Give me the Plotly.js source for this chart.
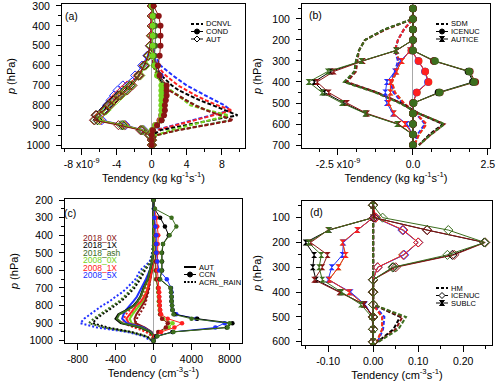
<!DOCTYPE html>
<html>
<head>
<meta charset="utf-8">
<script src="https://cdn.plot.ly/plotly-3.0.1.min.js"></script>
<style>
  html, body { margin: 0; padding: 0; background: #fff; }
  #chart { width: 500px; height: 392px; }
</style>
</head>
<body>
<div id="chart"></div>
<script>
// scenarios, same order in every data block below
var scen = ['2018_0X', '2018_1X', '2018_ash', '2008_0X', '2008_1X', '2008_5X'];
var scenColors = ['#8c1515', '#000000', '#3c6e1e', '#74d420', '#ff2020', '#2030ff'];

// (a) mass tendencies, units of 1e-9 kg kg-1 s-1
var levA = [300, 350, 400, 450, 500, 550, 600, 650, 700, 725, 750, 775, 800, 825, 850, 875, 900, 925, 950, 975, 1000];
var aDCNVL = [
  [0, 0, 0, 0, 0, 0.1, 0.2, 0.6, 1.3, 2.0, 2.9, 3.9, 4.9, 6.2, 7.8, 9.3, 6.2, 3.0, 0.6, 0.1, 0],
  [0, 0, 0, 0, 0, 0.1, 0.4, 1.1, 2.3, 3.1, 4.3, 5.5, 7.0, 8.5, 9.8, 6.8, 3.8, 1.0, 0.1, 0, 0],
  [0, 0, 0, 0, 0, 0.1, 0.2, 0.6, 1.4, 2.1, 3.0, 4.0, 5.0, 6.3, 8.0, 9.0, 6.0, 3.0, 0.6, 0.1, 0],
  [0, 0, 0, 0, 0, 0.1, 0.2, 0.6, 1.4, 2.2, 3.0, 3.7, 4.4, 6.4, 8.8, 6.6, 4.4, 2.2, 0.5, 0, 0],
  [0, 0, 0, 0, 0, 0.2, 0.6, 1.6, 3.0, 4.0, 5.0, 6.2, 7.5, 9.2, 7.0, 4.8, 2.6, 0.6, 0, 0, 0],
  [0, 0, 0, 0, 0.1, 0.4, 1.0, 2.4, 4.0, 5.0, 6.1, 7.2, 8.3, 9.0, 6.8, 4.6, 2.4, 0.4, 0, 0, 0]
];
var aCOND = [
  [0.2, 0.8, 1.0, 1.0, 1.0, 0.9, 0.7, 0.9, 1.7, 1.7, 1.7, 1.6, 1.5, 1.5, 1.4, 1.1, 0.6, 0.1, 0, 0, 0],
  [0, 0.1, 0.1, 0.1, 0.1, 0.1, 0.3, 0.7, 1.3, 1.4, 1.4, 1.4, 1.3, 1.3, 1.3, 1.1, 0.6, 0.1, 0, 0, 0],
  [0.1, 0.3, 0.4, 0.4, 0.4, 0.3, 0.4, 0.8, 1.5, 1.5, 1.5, 1.5, 1.4, 1.4, 1.3, 1.1, 0.6, 0.1, 0, 0, 0],
  [0, 0.1, 0.1, 0.1, 0.1, 0.1, 0.3, 0.6, 1.1, 1.1, 1.1, 1.1, 1.1, 1.1, 1.1, 1.0, 0.4, 0, 0, 0, 0],
  [0, 0, 0, 0, 0.1, 0.2, 0.4, 0.8, 1.2, 1.3, 1.3, 1.3, 1.3, 1.2, 1.1, 0.9, 0.4, 0.1, 0, 0, 0],
  [0, 0, 0, 0, 0.1, 0.3, 0.6, 1.0, 1.3, 1.3, 1.3, 1.3, 1.3, 1.2, 1.1, 0.9, 0.4, 0.1, 0, 0, 0]
];
var aAUT = [
  [0, 0, 0, -0.1, -0.2, -0.4, -0.9, -1.4, -2.2, -2.8, -3.6, -4.3, -4.8, -5.4, -6.4, -6.6, -3.8, -1.3, -0.3, 0, 0],
  [0, 0, 0, 0, -0.1, -0.4, -0.8, -1.5, -2.5, -3.1, -3.8, -4.4, -5.0, -5.5, -6.3, -6.2, -3.3, -1.1, -0.2, 0, 0],
  [0, 0, 0, 0, -0.1, -0.4, -0.9, -1.5, -2.4, -3.0, -3.7, -4.3, -4.9, -5.3, -6.4, -6.5, -3.5, -1.2, -0.3, 0, 0],
  [0, 0, 0, 0, -0.1, -0.3, -0.7, -1.3, -2.3, -2.9, -3.5, -4.1, -4.7, -5.2, -5.9, -6.0, -3.2, -1.0, -0.2, 0, 0],
  [0, 0, 0, 0, -0.1, -0.4, -0.9, -1.6, -2.8, -3.4, -4.0, -4.5, -5.0, -5.4, -6.0, -5.9, -3.1, -1.0, -0.2, 0, 0],
  [0, 0, 0, 0, -0.2, -0.5, -1.1, -1.9, -3.3, -3.9, -4.3, -4.7, -5.1, -5.5, -5.9, -5.7, -3.0, -0.9, -0.2, 0, 0]
];

// (b) ice mass tendencies, units of 1e-9 kg kg-1 s-1
var levB = [50, 100, 150, 200, 250, 300, 350, 400, 450, 500, 550, 600, 650, 700];
var bSDM = [
  [0, 0, -0.9, -1.6, -1.8, -1.85, -1.9, -2.2, -1.2, -0.4, 0.2, 1.05, 0.6, 0.2],
  [0, 0, -0.95, -1.6, -1.8, -1.9, -1.95, -2.25, -1.2, -0.4, 0.2, 1.0, 0.55, 0.2],
  [0, 0, -0.95, -1.6, -1.8, -1.9, -1.95, -2.3, -1.25, -0.45, 0.2, 1.05, 0.6, 0.2],
  [0, 0, -0.3, -0.5, -0.6, -0.45, -0.55, -0.7, -0.6, -0.3, 0.1, 0.45, 0.2, 0.05],
  [0, 0, -0.3, -0.5, -0.6, -0.45, -0.55, -0.7, -0.6, -0.3, 0.1, 0.45, 0.2, 0.05],
  [0, 0, -0.3, -0.5, -0.6, -0.5, -0.6, -0.75, -0.65, -0.35, 0.1, 0.4, 0.15, 0.05]
];
var bICENUC = [
  [0, 0, 0, 0, 0, 0.7, 1.9, 2.08, 0.9, 0.02, 0, 0, 0, 0],
  [0, 0, 0, 0, 0, 0.7, 1.85, 2.0, 0.85, 0.02, 0, 0, 0, 0],
  [0, 0, 0, 0, 0, 0.74, 1.88, 2.04, 0.89, 0.02, 0, 0, 0, 0],
  [0, 0, 0, 0, -0.05, 0.19, 0.41, 0.52, 0.13, 0, 0, 0, 0, 0],
  [0, 0, 0, 0, -0.05, 0.19, 0.41, 0.52, 0.13, 0, 0, 0, 0, 0],
  [0, 0, 0, 0, -0.05, 0.18, 0.4, 0.5, 0.12, 0, 0, 0, 0, 0]
];
var bAUTICE = [
  [0, 0, 0, 0, -0.55, -1.67, -2.64, -3.2, -2.81, -2.2, -1.53, -0.48, 0, 0],
  [0, 0, 0, 0, -0.55, -1.7, -2.75, -3.3, -2.95, -2.3, -1.57, -0.5, 0, 0],
  [0, 0, 0, 0, -0.57, -1.72, -2.84, -3.48, -3.03, -2.37, -1.59, -0.53, 0, 0],
  [0, 0, 0, 0, -0.1, -0.37, -0.55, -0.75, -0.75, -0.81, -0.64, -0.26, 0, 0],
  [0, 0, 0, 0, -0.1, -0.37, -0.55, -0.75, -0.75, -0.81, -0.64, -0.26, 0, 0],
  [0, 0, 0, 0, -0.08, -0.42, -0.6, -0.87, -0.92, -0.87, -0.67, -0.2, 0, 0]
];

// (c) number tendencies, cm-3 s-1 (CCN is shown on a 1:10 scale, labels 4000/8000)
var levC = [200, 250, 300, 350, 400, 450, 500, 550, 600, 650, 700, 725, 750, 775, 800, 825, 850, 875, 900, 925, 950, 975, 1000];
var cAUT = [
  [0, 0, 0, 0, 0, 0, 0, -5, -15, -30, -50, -60, -75, -90, -120, -150, -180, -200, -190, -90, -20, 0, 0],
  [0, 0, 0, 0, 0, 0, -5, -15, -35, -60, -105, -120, -140, -170, -210, -280, -370, -400, -345, -140, -35, 0, 0],
  [0, 0, 0, 0, 0, 0, -5, -15, -35, -60, -100, -115, -135, -165, -200, -270, -360, -385, -330, -130, -30, 0, 0],
  [0, 0, 0, 0, 0, 0, 0, -5, -20, -35, -60, -75, -90, -110, -150, -190, -220, -250, -230, -100, -25, 0, 0],
  [0, 0, 0, 0, 0, 0, 0, -5, -20, -35, -60, -75, -100, -130, -180, -220, -250, -285, -260, -120, -30, 0, 0],
  [0, 0, 0, 0, 0, 0, -5, -15, -40, -80, -125, -150, -175, -210, -250, -290, -315, -330, -280, -110, -25, 0, 0]
];
var cCCN = [
  [0, 50, 100, 150, 200, 200, 200, 200, 250, 300, 500, 550, 600, 600, 650, 700, 700, 900, 1500, 1300, 500, 100, 0],
  [0, 100, 700, 1200, 1600, 1000, 900, 900, 900, 650, 1800, 1850, 1900, 1900, 1950, 2000, 2200, 4600, 8300, 7700, 2000, 300, 0],
  [0, 150, 1900, 2400, 1700, 1000, 850, 850, 850, 700, 1800, 1850, 1900, 1900, 1950, 2000, 2100, 4000, 8000, 7800, 2100, 400, 0],
  [0, 30, 80, 100, 150, 150, 150, 150, 200, 250, 450, 500, 550, 550, 600, 650, 700, 1000, 2000, 1600, 600, 100, 0],
  [0, 100, 300, 400, 500, 450, 450, 400, 400, 500, 550, 600, 600, 650, 650, 700, 800, 1500, 3000, 2200, 800, 200, 0],
  [0, 50, 100, 200, 300, 300, 300, 400, 600, 1400, 1850, 1900, 1900, 1900, 1950, 2000, 2400, 4500, 7500, 6500, 2000, 300, 0]
];
var cACRL = [
  [0, 0, 0, 0, 0, 0, -5, -10, -20, -30, -45, -55, -65, -75, -90, -120, -150, -175, -190, -130, -50, -10, 0],
  [0, 0, 0, 0, 0, -5, -10, -30, -90, -140, -200, -240, -290, -340, -400, -470, -540, -600, -640, -480, -230, -70, -10],
  [0, 0, 0, 0, 0, -5, -10, -30, -110, -160, -220, -260, -310, -360, -430, -500, -570, -630, -680, -520, -250, -80, -10],
  [0, 0, 0, 0, 0, 0, -5, -10, -20, -40, -70, -85, -100, -120, -150, -190, -230, -250, -260, -170, -70, -15, 0],
  [0, 0, 0, 0, 0, 0, -5, -10, -25, -50, -90, -110, -130, -160, -210, -250, -290, -310, -320, -200, -80, -15, 0],
  [0, 0, 0, 0, 0, -5, -15, -40, -140, -190, -280, -330, -400, -460, -540, -600, -660, -730, -770, -590, -280, -100, -30]
];
var ccnScale = 10;

// (d) ice number tendencies, cm-3 s-1
var levD = [50, 100, 150, 200, 250, 300, 350, 400, 450, 500, 550, 600];
var dHM = [
  [0, 0, 0, 0, 0, 0, 0, 0, 0, 0.065, 0.05, 0.012],
  [0, 0, 0, 0, 0, 0, 0, 0, 0, 0.06, 0.045, 0.01],
  [0, 0, 0, 0, 0, 0, 0, 0, 0, 0.073, 0.056, 0.012],
  [0, 0, 0, 0, 0, 0, 0, 0, 0, 0.02, 0.02, 0.008],
  [0, 0, 0, 0, 0, 0, 0, 0, 0, 0.02, 0.02, 0.008],
  [0, 0, 0, 0, 0, 0, 0, 0, 0, 0.025, 0.022, 0.01]
];
var dICENUC = [
  [0, 0.002, 0.12, 0.249, 0.18, 0.05, 0, 0, 0, 0, 0, 0],
  [0, 0.002, 0.12, 0.247, 0.176, 0.045, 0, 0, 0, 0, 0, 0],
  [0, 0.021, 0.167, 0.248, 0.165, 0.043, 0, 0, 0, 0, 0, 0],
  [0, 0.006, 0.067, 0.1, 0.067, 0.01, 0, 0, 0, 0, 0, 0],
  [0, 0.006, 0.067, 0.1, 0.067, 0.01, 0, 0, 0, 0, 0, 0],
  [0, 0.005, 0.065, 0.1, 0.069, 0.01, 0, 0, 0, 0, 0, 0]
];
var dSUBLC = [
  [0, 0, -0.1, -0.139, -0.101, -0.113, -0.131, -0.075, -0.02, 0, 0, 0],
  [0, 0, -0.098, -0.15, -0.131, -0.134, -0.127, -0.072, -0.02, 0, 0, 0],
  [0, 0, -0.099, -0.144, -0.115, -0.12, -0.113, -0.07, -0.027, -0.003, 0, 0],
  [0, 0, -0.035, -0.068, -0.061, -0.077, -0.098, -0.053, -0.02, 0, 0, 0],
  [0, 0, -0.035, -0.068, -0.061, -0.077, -0.098, -0.053, -0.02, 0, 0, 0],
  [0, 0, -0.035, -0.066, -0.068, -0.092, -0.1, -0.05, -0.018, 0, 0, 0]
];

// which scenario ends up on top differs per panel (last = top)
var orderA = [5, 4, 1, 2, 3, 0];
var orderB = [3, 5, 4, 1, 0, 2];
var orderC = [3, 0, 4, 5, 1, 2];
var orderD = [3, 5, 4, 1, 0, 2];

var styles = {
  dash:  {mode: 'lines', line: {width: 2, dash: '4px,2px'}},
  dot:   {mode: 'lines', line: {width: 2, dash: '2px,2px'}},
  thick: {mode: 'lines', line: {width: 2}},
  circ:  {mode: 'lines+markers', line: {width: 1}, marker: {symbol: 'circle', size: 6}},
  circS: {mode: 'lines+markers', line: {width: 1}, marker: {symbol: 'circle', size: 4.5}},
  circL: {mode: 'lines+markers', line: {width: 1}, marker: {symbol: 'circle', size: 7.5}},
  diam:  {mode: 'lines+markers', line: {width: 1}, marker: {symbol: 'diamond-open', size: 7, line: {width: 1}}},
  hour:  {mode: 'lines+markers', line: {width: 1}, marker: {symbol: 'hourglass', size: 6}}
};

var data = [];
function addSet(levels, rows, n, style, order, scale) {
  scale = scale || 1;
  order.forEach(function (i) {
    var s = styles[style];
    var c = scenColors[i];
    var tr = {
      type: 'scatter',
      x: rows[i].map(function (v) { return v / scale; }),
      y: levels,
      xaxis: 'x' + (n === 1 ? '' : n),
      yaxis: 'y' + (n === 1 ? '' : n),
      mode: s.mode,
      name: scen[i],
      showlegend: false,
      hoverinfo: 'skip',
      line: Object.assign({color: c}, s.line)
    };
    if (s.marker) {
      tr.marker = Object.assign({color: c}, s.marker);
      if (s.marker.line) tr.marker.line = {color: c, width: s.marker.line.width};
    }
    data.push(tr);
  });
}

addSet(levA, aDCNVL, 1, 'dash', orderA);
addSet(levA, aAUT, 1, 'diam', orderA);
addSet(levA, aCOND, 1, 'circ', orderA);
addSet(levB, bSDM, 2, 'dash', orderB);
addSet(levB, bAUTICE, 2, 'hour', orderB);
addSet(levB, bICENUC, 2, 'circL', orderB);
addSet(levC, cACRL, 3, 'dot', orderC);
addSet(levC, cAUT, 3, 'thick', orderC);
addSet(levC, cCCN, 3, 'circS', orderC, ccnScale);
addSet(levD, dHM, 4, 'dash', orderD);
addSet(levD, dSUBLC, 4, 'hour', orderD);
addSet(levD, dICENUC, 4, 'diam', orderD);

function steps(a, b, d) {
  var out = [];
  for (var v = a; v <= b + d / 1000; v += d) out.push(Math.round(v * 1e6) / 1e6);
  return out;
}

var FONT = 'Liberation Sans, Arial, sans-serif';

function xAxis(domain, anchor, range, tickvals, ticktext, minorVals, title) {
  return {
    domain: domain, anchor: anchor, range: range, autorange: false,
    showline: true, linecolor: '#000', linewidth: 1, mirror: true,
    ticks: 'outside', ticklen: 6, tickcolor: '#000', tickwidth: 1,
    tickmode: 'array', tickvals: tickvals, ticktext: ticktext,
    minor: {tickmode: 'array', tickvals: minorVals, ticks: 'outside', ticklen: 3, tickcolor: '#000'},
    showgrid: false, zeroline: true, zerolinecolor: '#a8a8a8', zerolinewidth: 1,
    tickfont: {size: 10.5, color: '#000'}, ticklabeloverflow: 'allow',
    title: {text: title, font: {size: 11, color: '#000'}, standoff: 5},
    automargin: false
  };
}
function yAxis(domain, anchor, range, tickvals, minorVals) {
  return {
    domain: domain, anchor: anchor, range: range, autorange: false,
    showline: true, linecolor: '#000', linewidth: 1, mirror: true,
    ticks: 'outside', ticklen: 5, tickcolor: '#000', tickwidth: 1,
    tickmode: 'array', tickvals: tickvals, ticklabelstandoff: 4,
    minor: {tickmode: 'array', tickvals: minorVals, ticks: 'outside', ticklen: 3, tickcolor: '#000'},
    showgrid: false, zeroline: false,
    tickfont: {size: 10.5, color: '#000'}, ticklabeloverflow: 'allow',
    title: {text: '<i>p</i> (hPa)', font: {size: 11, color: '#000'}, standoff: 8},
    automargin: false
  };
}

var tendMass = 'Tendency (kg kg<sup>-1</sup>s<sup>-1</sup>)';
var tendNum = 'Tendency (cm<sup>-3</sup>s<sup>-1</sup>)';

function px(x) { return x / 500; }
function py(y) { return 1 - y / 392; }

var shapes = [];
var annotations = [];

function note(x, y, text, size, color) {
  annotations.push({xref: 'paper', yref: 'paper', x: px(x), y: py(y), text: text, showarrow: false,
    xanchor: 'left', yanchor: 'middle', borderpad: 0,
    font: {size: size, color: color || '#000', family: FONT}});
}

// small process keys (line sample + symbol + label)
function key(x, y, label, kind) {
  var line = {type: 'line', xref: 'paper', yref: 'paper', x0: px(x), x1: px(x + 12), y0: py(y), y1: py(y),
    line: {color: '#000', width: 1}};
  if (kind === 'dash') { line.line.width = 2; line.line.dash = '3px,2px'; }
  if (kind === 'dot') { line.line.width = 2; line.line.dash = '2px,1.5px'; }
  if (kind === 'thick') { line.line.width = 2; }
  shapes.push(line);
  var base = {xref: 'paper', yref: 'paper', xsizemode: 'pixel', ysizemode: 'pixel', xanchor: px(x + 6), yanchor: py(y)};
  if (kind === 'circ') {
    shapes.push(Object.assign({type: 'circle', x0: -2.5, x1: 2.5, y0: -2.5, y1: 2.5,
      fillcolor: '#000', line: {color: '#000', width: 1}}, base));
  } else if (kind === 'diam') {
    shapes.push(Object.assign({type: 'path', path: 'M0,3 L3,0 L0,-3 L-3,0 Z',
      fillcolor: '#fff', line: {color: '#000', width: 1}}, base));
  } else if (kind === 'hour') {
    shapes.push(Object.assign({type: 'path', path: 'M-2.5,2.5 L2.5,2.5 L-2.5,-2.5 L2.5,-2.5 Z',
      fillcolor: '#000', line: {color: '#000', width: 1}}, base));
  }
  note(x + 14, y, label, 7.5);
}

key(191, 24, 'DCNVL', 'dash');
key(191, 31.5, 'COND', 'circ');
key(191, 39, 'AUT', 'diam');
key(436, 24, 'SDM', 'dash');
key(436, 31.5, 'ICENUC', 'circ');
key(436, 39, 'AUTICE', 'hour');
key(184, 267, 'AUT', 'thick');
key(184, 274.5, 'CCN', 'circ');
key(184, 282, 'ACRL_RAIN', 'dot');
key(436, 288, 'HM', 'dash');
key(436, 295.5, 'ICENUC', 'diam');
key(436, 303, 'SUBLC', 'hour');

// scenario names, coloured
scen.forEach(function (s, i) {
  note(82, 237.7 + i * 7.5, s, 8.5, scenColors[i]);
});

note(64, 16, '(a)', 10.5);
note(308, 15, '(b)', 10.5);
note(63, 213, '(c)', 10.5);
note(309, 212, '(d)', 10.5);

var layout = {
  width: 500, height: 392,
  margin: {l: 0, r: 0, t: 0, b: 0},
  paper_bgcolor: '#fff', plot_bgcolor: '#fff',
  font: {family: FONT, size: 10.5, color: '#000'},
  showlegend: false,
  xaxis: xAxis([0.124, 0.49], 'y', [-10.25, 10.65], [-8, -4, 0, 4, 8],
    ['-8 x10<sup>-9</sup>', '-4', '0', '4', '8'], steps(-10, 10, 2), tendMass),
  yaxis: yAxis([0.6224, 0.9898], 'x', [1015, 290], steps(300, 1000, 100), steps(300, 1000, 50)),
  xaxis2: xAxis([0.604, 0.98], 'y2', [-3.7, 2.57], [-2.5, 0, 2.5],
    ['-2.5 x10<sup>-9</sup>', '0.0', '2.5'], steps(-3.75, 2.5, 0.625), tendMass),
  yaxis2: yAxis([0.6224, 0.9898], 'x2', [714, 29], steps(100, 700, 100), steps(50, 700, 50)),
  xaxis3: xAxis([0.13, 0.484], 'y3', [-931, 931], [-800, -400, 0, 400, 800],
    ['-800', '-400', '0', '4000', '8000'], steps(-800, 800, 200), tendNum),
  yaxis3: yAxis([0.125, 0.4923], 'x3', [1013, 194], steps(200, 1000, 100), steps(200, 1000, 50)),
  xaxis4: xAxis([0.604, 0.984], 'y4', [-0.158, 0.264], [-0.1, 0, 0.1, 0.2],
    ['-0.10', '0.00', '0.10', '0.20'], steps(-0.15, 0.25, 0.05), tendNum),
  yaxis4: yAxis([0.1199, 0.4872], 'x4', [613, 33], steps(100, 600, 100), steps(50, 600, 50)),
  shapes: shapes,
  annotations: annotations
};

Plotly.newPlot('chart', data, layout, {displayModeBar: false, staticPlot: true});
</script>
</body>
</html>
